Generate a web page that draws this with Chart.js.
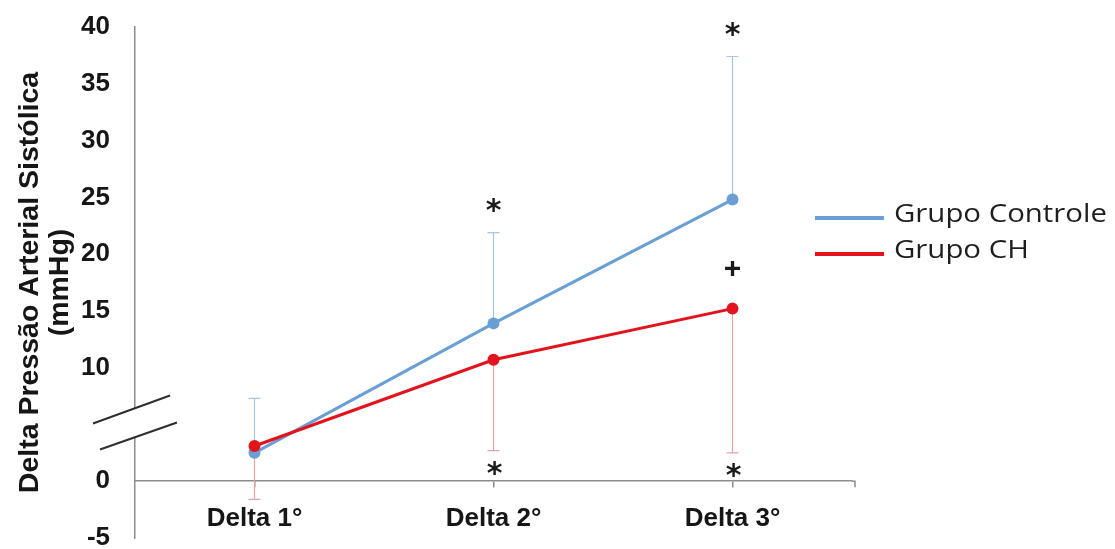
<!DOCTYPE html>
<html>
<head>
<meta charset="utf-8">
<script src="https://cdn.jsdelivr.net/npm/chart.js@4/dist/chart.umd.min.js"></script>
<style>
  html, body { margin: 0; padding: 0; background: #ffffff; }
  #wrap { width: 1115px; height: 549px; }
</style>
</head>
<body>
<div id="wrap"><canvas id="c" width="1115" height="549"></canvas></div>
<script>
// Categories and series
const categories = ['Delta 1°', 'Delta 2°', 'Delta 3°'];
const seriesNames = ['Grupo Controle', 'Grupo CH'];
const controleMean = [2.5, 13.9, 24.8];
const controleSD = [4.8, 8.0, 12.6];
const chMean = [3.1, 10.7, 15.2];
const chSD = [4.7, 8.0, 12.7];

// Significance markers per category
const controleMarks = ['', '*', '*'];   // above the upper error bar
const chMarks = ['', '*', '*'];         // below the lower error bar
const betweenMarks = ['', '', '+'];     // above the CH point

// Y axis tick values (5 is replaced by the axis break)
const yTicks = [-5, 0, 10, 15, 20, 25, 30, 35, 40];
const yBreakValue = 5;

const BLUE = '#699fd3';
const RED = '#e3131d';
const BLUE_ERR = '#a8c5e3';
const RED_ERR = '#e6a3a6';
const AXIS = '#8c8c8c';

// Error bars: upper for Controle, lower for CH
const errorBarPlugin = {
  id: 'errorBars',
  beforeDatasetsDraw(chart) {
    const ctx = chart.ctx;
    const y = chart.scales.y;
    const specs = [
      { idx: 0, mean: controleMean, sd: controleSD, dir: 1, color: BLUE_ERR },
      { idx: 1, mean: chMean, sd: chSD, dir: -1, color: RED_ERR }
    ];
    ctx.save();
    ctx.lineWidth = 1.2;
    specs.forEach(s => {
      const meta = chart.getDatasetMeta(s.idx);
      meta.data.forEach((pt, i) => {
        const y0 = y.getPixelForValue(s.mean[i]);
        const y1 = y.getPixelForValue(s.mean[i] + s.dir * s.sd[i]);
        ctx.strokeStyle = s.color;
        ctx.beginPath();
        ctx.moveTo(pt.x, y0);
        ctx.lineTo(pt.x, y1);
        ctx.moveTo(pt.x - 6, y1);
        ctx.lineTo(pt.x + 6, y1);
        ctx.stroke();
      });
    });
    ctx.restore();
  }
};

function drawCenteredGlyph(ctx, text, cx, cy) {
  const m = ctx.measureText(text);
  const asc = m.actualBoundingBoxAscent;
  const desc = m.actualBoundingBoxDescent;
  ctx.textAlign = 'center';
  ctx.textBaseline = 'alphabetic';
  ctx.fillText(text, cx, cy + (asc - desc) / 2);
}

// Significance symbols
const markPlugin = {
  id: 'marks',
  afterDatasetsDraw(chart) {
    const ctx = chart.ctx;
    const y = chart.scales.y;
    const metaC = chart.getDatasetMeta(0);
    const metaH = chart.getDatasetMeta(1);
    ctx.save();
    ctx.fillStyle = '#1a1a1a';
    ctx.font = 'bold 30px "DejaVu Sans"';
    metaC.data.forEach((pt, i) => {
      if (!controleMarks[i]) return;
      const top = y.getPixelForValue(controleMean[i] + controleSD[i]);
      drawCenteredGlyph(ctx, controleMarks[i], pt.x, top - 27);
    });
    metaH.data.forEach((pt, i) => {
      if (!chMarks[i]) return;
      const bot = y.getPixelForValue(chMean[i] - chSD[i]);
      drawCenteredGlyph(ctx, chMarks[i], pt.x + 1, bot + 18);
    });
    ctx.font = 'bold 30px "Liberation Sans"';
    metaH.data.forEach((pt, i) => {
      if (!betweenMarks[i]) return;
      drawCenteredGlyph(ctx, betweenMarks[i], pt.x, pt.y - 41);
    });
    ctx.restore();
  }
};

// Axis break on the y axis, end of the x axis, and the legend
const decorPlugin = {
  id: 'decor',
  afterDraw(chart) {
    const ctx = chart.ctx;
    const ys = chart.scales.y;
    const ax = chart.chartArea.left;
    const by = ys.getPixelForValue(yBreakValue) - 2;
    ctx.save();
    // white gap in the axis
    ctx.fillStyle = '#ffffff';
    ctx.beginPath();
    ctx.moveTo(ax - 3, by - 13);
    ctx.lineTo(ax + 3, by - 15);
    ctx.lineTo(ax + 3, by + 14);
    ctx.lineTo(ax - 3, by + 16);
    ctx.closePath();
    ctx.fill();
    // the two slanted strokes
    ctx.strokeStyle = '#2e2e2e';
    ctx.lineWidth = 2;
    ctx.beginPath();
    ctx.moveTo(ax - 42, by + 1);
    ctx.lineTo(ax + 35, by - 27);
    ctx.moveTo(ax - 35, by + 27);
    ctx.lineTo(ax + 42, by);
    ctx.stroke();

    // x axis runs a little past the last category slot and closes with a tick
    const zy = ys.getPixelForValue(0);
    const xr = chart.chartArea.right;
    ctx.strokeStyle = AXIS;
    ctx.lineWidth = 1.5;
    ctx.beginPath();
    ctx.moveTo(xr, zy);
    ctx.lineTo(xr + 3, zy);
    ctx.lineTo(xr + 3, zy + 6);
    ctx.stroke();

    // legend
    const items = [
      { label: seriesNames[0], color: BLUE, y: 218 },
      { label: seriesNames[1], color: RED, y: 254 }
    ];
    ctx.font = '26px "Open Sans"';
    ctx.textAlign = 'left';
    ctx.textBaseline = 'middle';
    items.forEach(it => {
      ctx.strokeStyle = it.color;
      ctx.lineWidth = 4;
      ctx.beginPath();
      ctx.moveTo(815, it.y);
      ctx.lineTo(884, it.y);
      ctx.stroke();
      ctx.fillStyle = '#1e1e1e';
      ctx.save();
      ctx.translate(894, it.y - 3);
      ctx.scale(1.13, 1);
      ctx.fillText(it.label, 0, 0);
      ctx.restore();
    });
    ctx.restore();
  }
};

new Chart(document.getElementById('c'), {
  type: 'line',
  data: {
    labels: categories,
    datasets: [
      {
        label: seriesNames[0],
        data: controleMean,
        borderColor: BLUE,
        backgroundColor: BLUE,
        borderWidth: 3,
        pointRadius: 6,
        pointHoverRadius: 6,
        pointBorderWidth: 0,
        tension: 0,
        order: 2
      },
      {
        label: seriesNames[1],
        data: chMean,
        borderColor: RED,
        backgroundColor: RED,
        borderWidth: 3,
        pointRadius: 6,
        pointHoverRadius: 6,
        pointBorderWidth: 0,
        tension: 0,
        order: 1
      }
    ]
  },
  options: {
    responsive: false,
    animation: false,
    devicePixelRatio: 1,
    layout: { padding: { top: 27, right: 263, bottom: 11, left: 0 } },
    plugins: {
      legend: { display: false },
      tooltip: { enabled: false }
    },
    scales: {
      x: {
        type: 'category',
        offset: true,
        position: { y: 0 },
        afterFit(scale) {
          scale.height = 0;
          scale.paddingTop = 0;
          scale.paddingBottom = 0;
        },
        grid: {
          display: true,
          drawOnChartArea: false,
          drawTicks: true,
          tickLength: 6,
          offset: false,
          color: AXIS,
          lineWidth: 1.5
        },
        border: { display: true, color: AXIS, width: 1.5 },
        ticks: {
          color: '#161616',
          padding: 16,
          maxRotation: 0,
          font: { family: '"Liberation Sans", Arial, sans-serif', weight: 'bold', size: 26 }
        }
      },
      y: {
        min: -5,
        max: 40,
        afterBuildTicks(scale) {
          scale.ticks = yTicks.map(v => ({ value: v }));
        },
        afterFit(scale) {
          scale.width = 135;
          scale.paddingTop = 0;
          scale.paddingBottom = 0;
        },
        grid: { display: false, drawTicks: false },
        border: { display: true, color: AXIS, width: 1.5 },
        ticks: {
          color: '#161616',
          padding: 25,
          font: { family: '"Liberation Sans", Arial, sans-serif', weight: 'bold', size: 26 },
          callback: v => String(v)
        },
        title: {
          display: true,
          text: ['Delta Pressão Arterial Sistólica', '(mmHg)'],
          color: '#161616',
          padding: { top: 15, bottom: 0 },
          font: { family: '"Liberation Sans", Arial, sans-serif', weight: 'bold', size: 28.5, lineHeight: 1.05 }
        }
      }
    }
  },
  plugins: [errorBarPlugin, markPlugin, decorPlugin]
});
</script>
</body>
</html>
